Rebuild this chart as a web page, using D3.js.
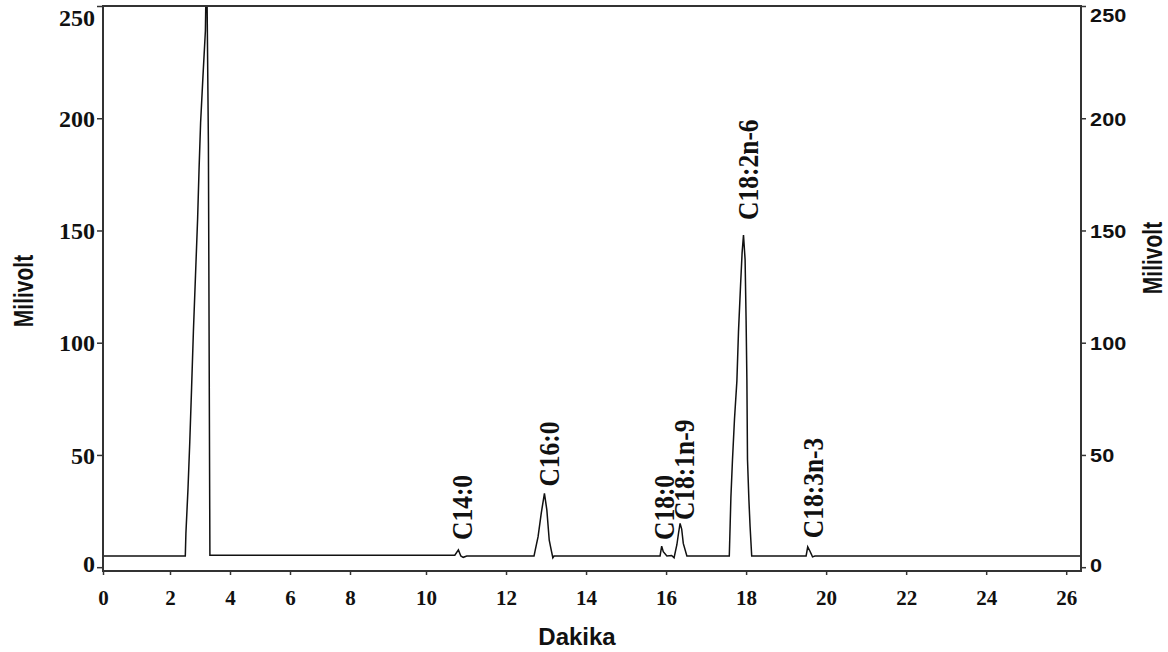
<!DOCTYPE html>
<html>
<head>
<meta charset="utf-8">
<script src="https://cdn.jsdelivr.net/npm/d3@7"></script>
<style>
  html, body { margin: 0; padding: 0; background: #ffffff; }
  svg { display: block; }
</style>
</head>
<body>
<svg id="chart" width="1168" height="652"></svg>
<script>
// ---- data ----
const times = [0, 2.51, 2.53, 2.60, 2.66, 2.72, 2.78, 2.85, 2.92, 2.97, 3.02, 3.10, 3.18, 3.22, 3.28, 3.33,
  10.72, 10.81, 10.87, 10.93, 11.02,
  12.70, 12.73, 12.80, 12.88, 12.96, 13.02, 13.08, 13.13, 13.17, 13.20,
  15.85, 15.89, 15.93, 16.02, 16.14, 16.20, 16.27, 16.31, 16.35, 16.39, 16.43, 16.52,
  17.57, 17.58, 17.62, 17.66, 17.71, 17.77, 17.81, 17.86, 17.90, 17.935, 17.975, 18.00, 18.02, 18.035, 18.07, 18.10, 18.14,
  19.50, 19.54, 19.60, 19.66, 19.72,
  26.37];
const millivolts = [5, 5, 15, 35, 56, 80, 105, 130, 155, 178, 198, 219, 239, 275, 189, 5.3,
  5.3, 7.7, 5, 4.4, 5,
  5, 7.6, 13.5, 24, 32.9, 25.5, 12, 7.6, 4.2, 5,
  5, 9.4, 6.9, 5, 5.2, 4.2, 10, 15, 19.5, 17, 10.6, 5,
  5, 5, 31, 48, 66, 83, 105, 125, 140, 148, 137, 110, 83, 48, 30, 18, 5,
  5, 9.1, 7, 4.6, 5,
  5];

const peakNames  = ["C14:0", "C16:0", "C18:0", "C18:1n-9", "C18:2n-6", "C18:3n-3"];
const labelTimes = [11.16, 13.33, 16.21, 16.71, 18.30, 19.91];
const labelLevels = [12.1, 35.9, 12.1, 21.0, 154.7, 12.9];

const xTickValues = [0, 2, 4, 6, 8, 10, 12, 14, 16, 18, 20, 22, 24, 26];
const yTickValues = [0, 50, 100, 150, 200, 250];
const xTitle = "Dakika";
const yTitle = "Milivolt";

// ---- layout ----
const svg = d3.select("#chart");
const plotLeft = 103, plotRight = 1081, plotTop = 6, plotBottom = 571;

// the original axis is unevenly spaced (0-8 compressed), so a polylinear scale
const x = d3.scaleLinear()
  .domain([0, 2, 8, 10, 26.37])
  .range([plotLeft, 170, 350, 426, plotRight]);
const y = d3.scaleLinear().domain([-1.7, 250]).range([plotBottom, plotTop]);

const serif = "'Liberation Serif', 'Times New Roman', serif";
const sans = "'Liberation Sans', Arial, sans-serif";
const axisColor = "#333";

// clip
svg.append("defs").append("clipPath").attr("id", "plotclip")
  .append("rect").attr("x", plotLeft).attr("y", plotTop)
  .attr("width", plotRight - plotLeft).attr("height", plotBottom - plotTop);

// signal
const pts = times.map((t, i) => [t, millivolts[i]]);
svg.append("path")
  .datum(pts)
  .attr("clip-path", "url(#plotclip)")
  .attr("fill", "none")
  .attr("stroke", "#111")
  .attr("stroke-width", 1.5)
  .attr("d", d3.line().x(d => x(d[0])).y(d => y(d[1])));

// axes
const gLeft = svg.append("g").attr("transform", `translate(${plotLeft},0)`)
  .call(d3.axisLeft(y).tickValues(yTickValues).tickSize(6).tickPadding(2).tickSizeOuter(0));
const gRight = svg.append("g").attr("transform", `translate(${plotRight},0)`)
  .call(d3.axisRight(y).tickValues(yTickValues).tickSize(5).tickPadding(3).tickSizeOuter(0));
const gBottom = svg.append("g").attr("transform", `translate(0,${plotBottom})`)
  .call(d3.axisBottom(x).tickValues(xTickValues).tickSize(4).tickPadding(15).tickSizeOuter(0));
const gTop = svg.append("g").attr("transform", `translate(0,${plotTop})`)
  .call(d3.axisTop(x).tickValues([]).tickSizeOuter(0));

[gLeft, gRight, gBottom, gTop].forEach(g => {
  g.select(".domain").attr("stroke", axisColor).attr("stroke-width", 2);
  g.selectAll(".tick line").attr("stroke", axisColor).attr("stroke-width", 1.5);
  g.selectAll("text").attr("fill", "#111").attr("font-weight", "bold");
});
gLeft.select(".domain").attr("d", `M0,${plotTop - 1}V${plotBottom + 1}`);
gRight.select(".domain").attr("d", `M0,${plotTop - 1}V${plotBottom + 1}`);
gBottom.select(".domain").attr("d", `M${plotLeft - 1},0H${plotRight + 1}`);
gTop.select(".domain").attr("d", `M${plotLeft - 1},0H${plotRight + 1}`);

gLeft.selectAll("text").attr("font-family", serif).attr("font-size", 24).attr("dy", "0.34em");
gLeft.selectAll(".tick").filter(d => d === 250).select("text").attr("transform", "translate(0,11)");
gLeft.selectAll(".tick").filter(d => d === 0).select("text").attr("transform", "translate(0,-3.5)");

gRight.selectAll("text").attr("font-family", sans).attr("font-size", 19).attr("dy", "0.36em")
  .attr("transform", "scale(1.14,1)");
gRight.selectAll(".tick").filter(d => d === 250).select("text").attr("transform", "translate(0,9) scale(1.14,1)");
gRight.selectAll(".tick").filter(d => d === 0).select("text").attr("transform", "translate(0,-3) scale(1.14,1)");

gBottom.selectAll("text").attr("font-family", serif).attr("font-size", 21).attr("dy", "0.71em");

// peak labels
svg.append("g").selectAll("text")
  .data(peakNames)
  .join("text")
  .attr("transform", (d, i) => `translate(${x(labelTimes[i])},${y(labelLevels[i])}) scale(1.12,1) rotate(-90)`)
  .attr("font-family", serif)
  .attr("font-weight", "bold")
  .attr("font-size", 25.5)
  .attr("fill", "#111")
  .text(d => d);

// axis titles
svg.append("text")
  .attr("x", 577).attr("y", 645)
  .attr("text-anchor", "middle")
  .attr("font-family", sans).attr("font-weight", "bold").attr("font-size", 24)
  .attr("fill", "#111")
  .text(xTitle);

svg.append("text")
  .attr("transform", "translate(33,291) scale(1.3,1) rotate(-90)")
  .attr("text-anchor", "middle")
  .attr("font-family", sans).attr("font-weight", "bold").attr("font-size", 21)
  .attr("fill", "#111")
  .text(yTitle);

svg.append("text")
  .attr("transform", "translate(1162,258) scale(1.3,1) rotate(-90)")
  .attr("text-anchor", "middle")
  .attr("font-family", sans).attr("font-weight", "bold").attr("font-size", 21)
  .attr("fill", "#111")
  .text(yTitle);
</script>
</body>
</html>
